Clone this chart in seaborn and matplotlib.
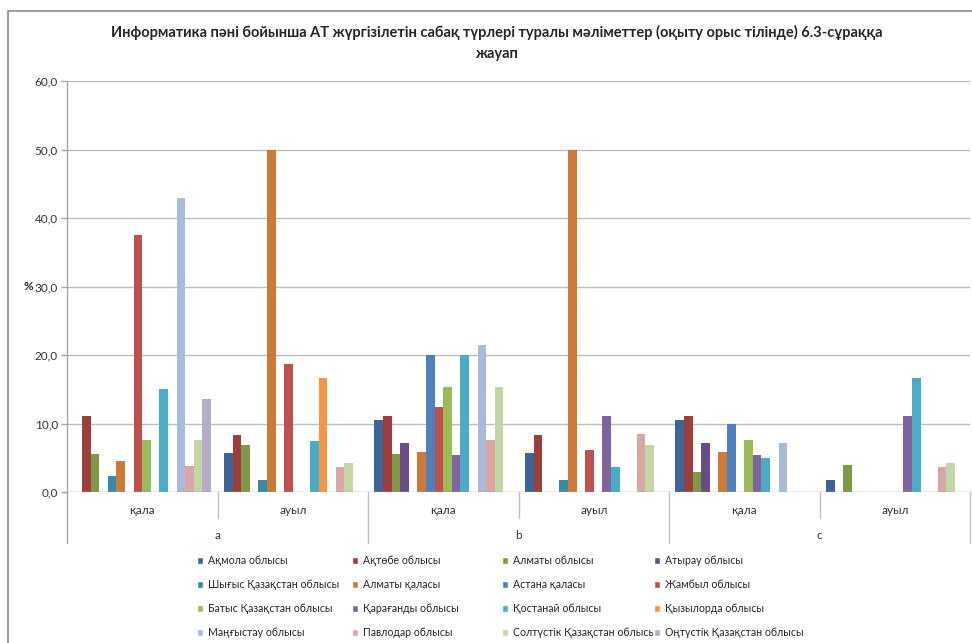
import numpy as np
import pandas as pd
import seaborn as sns
import matplotlib.pyplot as plt
from matplotlib.patches import Rectangle, Patch

regions = ["Ақмола облысы", "Ақтөбе облысы", "Алматы облысы", "Атырау облысы",
           "Шығыс Қазақстан облысы", "Алматы қаласы", "Астана қаласы", "Жамбыл облысы",
           "Батыс Қазақстан облысы", "Қарағанды облысы", "Қостанай облысы", "Қызылорда облысы",
           "Маңғыстау облысы", "Павлодар облысы", "Солтүстік Қазақстан облысы", "Оңтүстік Қазақстан облысы"]
colors = ["#3E6497", "#9D3E3B", "#7E9A48", "#674E87", "#398BA3", "#CC7A37", "#4F81BD", "#C0504D",
          "#9BBB59", "#8064A2", "#4BACC6", "#F79646", "#A9BBD9", "#D9A7A6", "#C5D6A6", "#B7ABCA"]

groups = ["a", "b", "c"]
places = ["қала", "ауыл"]

# one list per category, values in region order
a_kala = [0, 11.1, 5.6, 0, 2.3, 4.5, 0, 37.5, 7.6, 0, 15.0, 0, 42.9, 3.8, 7.6, 13.6]
a_auyl = [5.7, 8.3, 6.8, 0, 1.7, 50.0, 0, 18.7, 0, 0, 7.4, 16.6, 0, 3.6, 4.2, 0]
b_kala = [10.5, 11.1, 5.6, 7.1, 0, 5.9, 20.0, 12.4, 15.3, 5.4, 20.0, 0, 21.4, 7.6, 15.3, 0]
b_auyl = [5.7, 8.3, 0, 0, 1.7, 50.0, 0, 6.2, 0, 11.1, 3.7, 0, 0, 8.5, 6.8, 0]
c_kala = [10.5, 11.1, 2.9, 7.1, 0, 5.9, 10.0, 0, 7.6, 5.4, 5.0, 0, 7.1, 0, 0, 0]
c_auyl = [1.8, 0, 4.0, 0, 0, 0, 0, 0, 0, 11.1, 16.6, 0, 0, 3.6, 4.2, 0]

yticks = [0, 10, 20, 30, 40, 50, 60]
title = ("Информатика пәні бойынша АТ жүргізілетін сабақ түрлері туралы мәліметтер "
         "(оқыту орыс тілінде) 6.3-сұраққа\nжауап")

cats = [g + " " + p for g in groups for p in places]
table = [a_kala, a_auyl, b_kala, b_auyl, c_kala, c_auyl]
rows = []
for cat, vals in zip(cats, table):
    for r, v in zip(regions, vals):
        rows.append({"cat": cat, "region": r, "value": v})
df = pd.DataFrame(rows)

sns.set_style("white")
plt.rcParams["font.family"] = ["Lato", "Liberation Sans", "DejaVu Sans"]

fig = plt.figure(figsize=(9.72, 6.43), dpi=100)
W, H = 972, 643
ax = fig.add_axes([67 / W, 1 - 492 / H, 903 / W, 411 / H])

sns.barplot(data=df, x="cat", y="value", hue="region", order=cats, hue_order=regions,
            palette=colors, saturation=1, width=16 / 17.5, linewidth=0, errorbar=None,
            legend=False, ax=ax)

ax.set_xlim(-0.5, 5.5)
ax.set_ylim(0, 60)
ax.set_yticks(yticks)
ax.set_yticklabels([f"{t:.1f}".replace(".", ",") for t in yticks], fontsize=8.5, color="#333333")
ax.tick_params(axis="y", length=4, width=1, color="#A6A6A6", pad=2.5, left=True)
ax.set_xticks([])
ax.set_xlabel("")
ax.set_ylabel("")
for s in ax.spines.values():
    s.set_visible(False)
for t in yticks[1:]:
    ax.axhline(t, color="#BFBFBF", lw=1, zorder=0)
ax.axhline(0, color="#A6A6A6", lw=1, zorder=3)

# category axis lines and labels
tr = ax.get_xaxis_transform()
ax.plot([-0.5, -0.5], [1, -0.124], color="#A6A6A6", lw=1, transform=tr, clip_on=False)
for i in range(1, 6):
    low = -0.124 if i % 2 == 0 else -0.063
    ax.plot([i - 0.5, i - 0.5], [0, low], color="#BFBFBF", lw=1, transform=tr, clip_on=False)
ax.plot([5.5, 5.5], [0, -0.124], color="#BFBFBF", lw=1, transform=tr, clip_on=False)
for i, cat in enumerate(cats):
    ax.text(i, -0.046, cat.split(" ")[1], transform=tr, ha="center", va="center",
            fontsize=8.5, color="#333333")
for j, g in enumerate(groups):
    ax.text(2 * j + 0.5, -0.107, g, transform=tr, ha="center", va="center",
            fontsize=8.5, color="#333333")

fig.text(28 / W, 1 - 287 / H, "%", fontsize=8.5, fontweight="bold", ha="center", va="center")
fig.text(497 / W, 1 - 43 / H, title, fontsize=10.5, fontweight="bold", ha="center",
         va="center", linespacing=1.6)

# legend, one column at a time so positions match
col_x = [197, 352, 502, 654]
for c in range(4):
    handles = [Patch(facecolor=colors[c + 4 * r], label=regions[c + 4 * r]) for r in range(4)]
    fig.legend(handles=handles, loc="upper left", bbox_to_anchor=(col_x[c] / W, 1 - 555 / H),
               frameon=False, fontsize=7.6, handlelength=0.6, handleheight=0.6,
               handletextpad=0.4, labelspacing=1.24, borderaxespad=0, borderpad=0)

fig.patches.append(Rectangle((8 / W, -0.01), 1, 1 - 11 / H + 0.01, transform=fig.transFigure,
                             fill=False, edgecolor="#8C8C8C", lw=1.2))

fig.savefig("out.png", dpi=100)
